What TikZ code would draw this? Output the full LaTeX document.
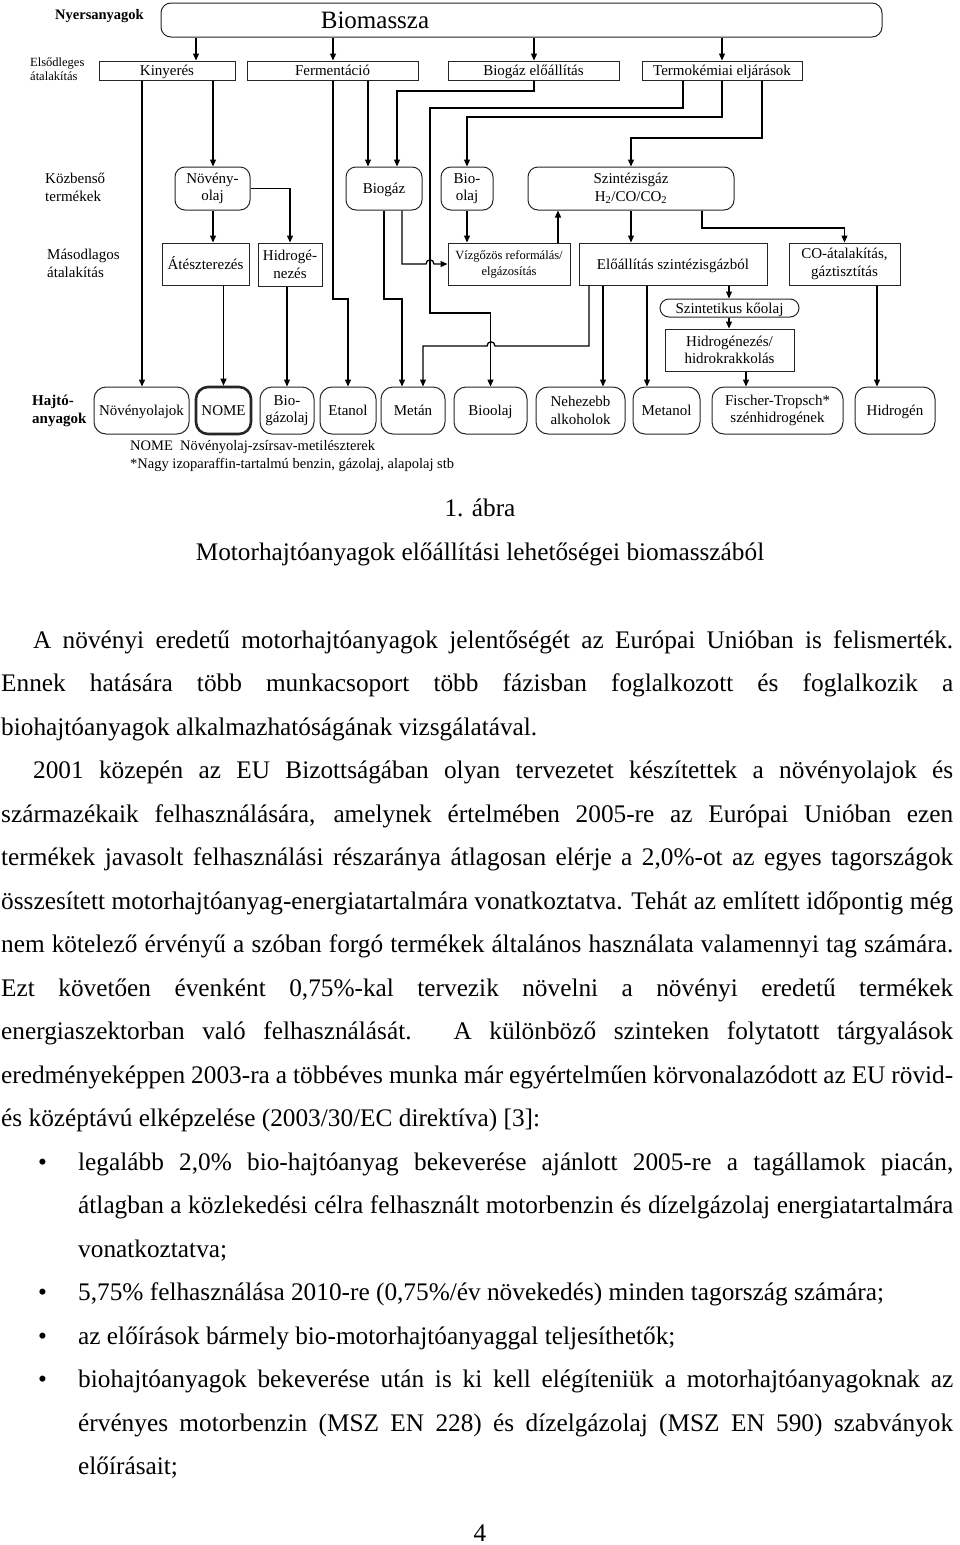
\documentclass[tikz,border=0pt]{standalone}
\usepackage{fontspec}
\setmainfont{Liberation Serif}
\usetikzlibrary{arrows.meta,positioning}
\newcommand\fsz[2]{\fontsize{#1}{#2}\selectfont}
\tikzset{
    box style/.style={draw=black!85,line width=1pt,inner sep=1pt,align=center,font=\fsz{15}{17.5}},
    rbox style/.style={box style,rounded corners=10pt},
    fuel style/.style={box style,rounded corners=12pt},
    single/.style={text height=12.5pt,text depth=2.5pt},
    arr/.style={-{Triangle[length=7pt,width=6pt]},line width=1.3pt},
    row label/.style={anchor=west,align=left,inner sep=0pt,font=\fsz{15}{18}},
    legend text/.style={anchor=west,inner sep=0pt,font=\fsz{14.5}{17}},
    body text/.style={anchor=base west,inner sep=0pt,font=\fsz{25.3}{30}},
    caption text/.style={anchor=base,inner sep=0pt,font=\fsz{25.3}{30}},
}
\begin{document}
\begin{tikzpicture}[x=1pt,y=-1pt]
    \useasboundingbox (0,0) rectangle (960,1545);
    % row labels
    \node[row label,font=\bfseries\fsz{14.5}{17}] (lnyers) at (55,16) {Nyersanyagok};
    \node[row label,font=\fsz{12.5}{14}] (lelso) at (30,69) {Elsődleges\\átalakítás};
    \node[row label] (lkozb) at (45,187) {Közbenső\\termékek};
    \node[row label] (lmasod) at (47,263) {Másodlagos\\átalakítás};
    \node[row label,font=\bfseries\fsz{15}{18}] (lhajto) at (32,411) {Hajtó-\\anyagok};
    % raw material
    \node[rbox style,minimum width=721,minimum height=34] (bio) at (521.5,20) {};
    \node[font=\fsz{25}{28},inner sep=0pt] (biot) at (375,20) {Biomassza};
    % primary conversion
    \node[box style,single,minimum width=136,minimum height=19] (kiny) at (167,70.5) {Kinyerés};
    \node[box style,single,minimum width=171,minimum height=19] (ferm) at (332.5,70.5) {Fermentáció};
    \node[box style,single,minimum width=171,minimum height=19] (bgel) at (533.5,70.5) {Biogáz előállítás};
    \node[box style,single,minimum width=160,minimum height=19] (term) at (722,70.5) {Termokémiai eljárások};
    % intermediate products
    \node[rbox style,minimum width=75,minimum height=43] (nolaj) at (212.5,188.5) {Növény-\\olaj};
    \node[rbox style,single,minimum width=76,minimum height=43] (biogaz) at (384,188.5) {Biogáz};
    \node[rbox style,minimum width=52,minimum height=43] (biool) at (467,188.5) {Bio-\\olaj};
    \node[rbox style,minimum width=206,minimum height=43] (szgaz) at (631,188.5) {Szintézisgáz\\H\textsubscript{2}/CO/CO\textsubscript{2}};
    % secondary conversion
    \node[box style,single,minimum width=87,minimum height=42] (atesz) at (205.5,264) {Átészterezés};
    \node[box style,minimum width=64,minimum height=43] (hidr) at (290,264.5) {Hidrogé-\\nezés};
    \node[box style,minimum width=122,minimum height=42,font=\fsz{12.5}{16}] (vizg) at (509,264) {Vízgőzös reformálás/\\elgázosítás};
    \node[box style,single,minimum width=188,minimum height=42] (eloal) at (673,264) {Előállítás szintézisgázból};
    \node[box style,minimum width=111,minimum height=42] (co) at (844.5,264) {CO-átalakítás,\\gáztisztítás};
    \node[box style,single,rounded corners=9pt,minimum width=139,minimum height=18] (szkoolaj) at (729.5,308) {Szintetikus kőolaj};
    \node[box style,minimum width=129,minimum height=42] (hk) at (729.5,350) {Hidrogénezés/\\hidrokrakkolás};
    % fuels
    \node[fuel style,single,minimum width=95,minimum height=47] (nolajok) at (141.5,410.5) {Növényolajok};
    \node[fuel style,single,line width=2.6pt,minimum width=55,minimum height=47] (nome) at (223.5,410.5) {NOME};
    \node[fuel style,minimum width=54,minimum height=47] (bgzol) at (287,410.5) {Bio-\\gázolaj};
    \node[fuel style,single,minimum width=56,minimum height=47] (etan) at (348,410.5) {Etanol};
    \node[fuel style,single,minimum width=64,minimum height=47] (metan) at (413,410.5) {Metán};
    \node[fuel style,single,minimum width=73,minimum height=47] (bioolaj) at (490.5,410.5) {Bioolaj};
    \node[fuel style,minimum width=89,minimum height=47] (nehez) at (580.5,410.5) {Nehezebb\\alkoholok};
    \node[fuel style,single,minimum width=67,minimum height=47] (metanol) at (666.5,410.5) {Metanol};
    \node[fuel style,minimum width=131,minimum height=47] (ft) at (777.5,410.5) {Fischer-Tropsch*\\szénhidrogének};
    \node[fuel style,single,minimum width=80,minimum height=47] (hidrogen) at (895,410.5) {Hidrogén};
    % legend
    \node[legend text] (leg1) at (130,447) {NOME\enspace Növényolaj-zsírsav-metilészterek};
    \node[legend text] (leg2) at (130,465) {*Nagy izoparaffin-tartalmú benzin, gázolaj, alapolaj stb};

    % connectors
    \foreach \x/\t in {196/kiny,333/ferm,534/bgel,722/term}
        \draw[arr] (bio.south -| \x,0) -- (\t.north -| \x,0);
    \draw[arr] (kiny.south -| 142,0) -- (nolajok.north -| 142,0);
    \draw[arr] (kiny.south -| 213,0) -- (nolaj.north -| 213,0);
    \draw[arr] (nolaj.south -| 213,0) -- (atesz.north -| 213,0);
    \draw[arr] (nolaj.east) -| (hidr.north);
    \draw[arr] (atesz.south -| nome.north) -- (nome.north);
    \draw[arr] (hidr.south -| bgzol.north) -- (bgzol.north);
    \draw[arr] (ferm.south -| 333,0) -- (333,299) -| (etan.north);
    \draw[arr] (ferm.south -| 368,0) -- (biogaz.north -| 368,0);
    \draw[arr] (bgel.south -| 534,0) -- (534,91) -| (biogaz.north -| 397,0);
    \draw[arr] (term.south -| 683,0) -- (683,108) -| (430,313) -| (bioolaj.north);
    \draw[arr] (term.south -| 722,0) -- (722,117) -| (biool.north);
    \draw[arr] (term.south -| 762,0) -- (762,138) -| (szgaz.north -| 631,0);
    \draw[arr] (biogaz.south -| 384,0) -- (384,299) -| (metan.north -| 402,0);
    \draw[arr] (biogaz.south -| 402,0) |- (426,264) .. controls (426,258.5) and (434,258.5) .. (434,264) -- (vizg.west);
    \draw[arr] (biool.south) -- (vizg.north -| biool.south);
    \draw[arr] (vizg.north -| 558,0) -- (szgaz.south -| 558,0);
    \draw[arr] (szgaz.south -| 631,0) -- (eloal.north -| 631,0);
    \draw[arr] (szgaz.south -| 702,0) -- (702,228) -| (co.north);
    \draw[arr] (eloal.south -| 589,0) |- (495,346) .. controls (495,340.5) and (487,340.5) .. (487,346) -| (metan.north -| 423,0);
    \draw[arr] (eloal.south -| 603,0) -- (nehez.north -| 603,0);
    \draw[arr] (eloal.south -| 647,0) -- (metanol.north -| 647,0);
    \draw[arr] (eloal.south -| 729,0) -- (szkoolaj.north -| 729,0);
    \draw[arr] (szkoolaj.south -| 729,0) -- (hk.north -| 729,0);
    \draw[arr] (hk.south -| 746,0) -- (ft.north -| 746,0);
    \draw[arr] (co.south -| 877,0) -- (hidrogen.north -| 877,0);

    % caption
    \node[caption text] (cap1) at (480,516) {1. ábra};
    \node[caption text] (cap2) at (480,560) {Motorhajtóanyagok előállítási lehetőségei biomasszából};

    % body text
    \node[body text] (t1) at (33,648) {\makebox[920pt][s]{A növényi eredetű motorhajtóanyagok jelentőségét az Európai Unióban is felismerték.}};
    \node[body text] (t2) at (1,691.5) {\makebox[952pt][s]{Ennek hatására több munkacsoport több fázisban foglalkozott és foglalkozik a}};
    \node[body text] (t3) at (1,735) {biohajtóanyagok alkalmazhatóságának vizsgálatával.};
    \node[body text] (t4) at (33,778.5) {\makebox[920pt][s]{2001 közepén az EU Bizottságában olyan tervezetet készítettek a növényolajok és}};
    \node[body text] (t5) at (1,822) {\makebox[952pt][s]{származékaik felhasználására, amelynek értelmében 2005-re az Európai Unióban ezen}};
    \node[body text] (t6) at (1,865.5) {\makebox[952pt][s]{termékek javasolt felhasználási részaránya átlagosan elérje a 2,0\%-ot az egyes tagországok}};
    \node[body text] (t7) at (1,909) {\makebox[952pt][s]{összesített motorhajtóanyag-energiatartalmára vonatkoztatva. Tehát az említett időpontig még}};
    \node[body text] (t8) at (1,952.5) {\makebox[952pt][s]{nem kötelező érvényű a szóban forgó termékek általános használata valamennyi tag számára.}};
    \node[body text] (t9) at (1,996) {\makebox[952pt][s]{Ezt követően évenként 0,75\%-kal tervezik növelni a növényi eredetű termékek}};
    \node[body text] (t10) at (1,1039.5) {\makebox[952pt][s]{energiaszektorban való felhasználását. A különböző szinteken folytatott tárgyalások}};
    \node[body text] (t11) at (1,1083) {\makebox[952pt][s]{eredményeképpen 2003-ra a többéves munka már egyértelműen körvonalazódott az EU rövid-}};
    \node[body text] (t12) at (1,1126.5) {és középtávú elképzelése (2003/30/EC direktíva) [3]:};
    % bullets
    \foreach \y/\n in {1170/1,1300.5/2,1344/3,1387.5/4}
        \node[body text] (bul\n) at (38,\y) {\textbullet};
    \node[body text] (b1) at (78,1170) {\makebox[875pt][s]{legalább 2,0\% bio-hajtóanyag bekeverése ajánlott 2005-re a tagállamok piacán,}};
    \node[body text] (b2) at (78,1213.5) {\makebox[875pt][s]{átlagban a közlekedési célra felhasznált motorbenzin és dízelgázolaj energiatartalmára}};
    \node[body text] (b3) at (78,1257) {vonatkoztatva;};
    \node[body text] (b4) at (78,1300.5) {5,75\% felhasználása 2010-re (0,75\%/év növekedés) minden tagország számára;};
    \node[body text] (b5) at (78,1344) {az előírások bármely bio-motorhajtóanyaggal teljesíthetők;};
    \node[body text] (b6) at (78,1387.5) {\makebox[875pt][s]{biohajtóanyagok bekeverése után is ki kell elégíteniük a motorhajtóanyagoknak az}};
    \node[body text] (b7) at (78,1431) {\makebox[875pt][s]{érvényes motorbenzin (MSZ EN 228) és dízelgázolaj (MSZ EN 590) szabványok}};
    \node[body text] (b8) at (78,1474.5) {előírásait;};
    % page number
    \node[caption text] (pnum) at (480,1541) {4};
\end{tikzpicture}
\end{document}
